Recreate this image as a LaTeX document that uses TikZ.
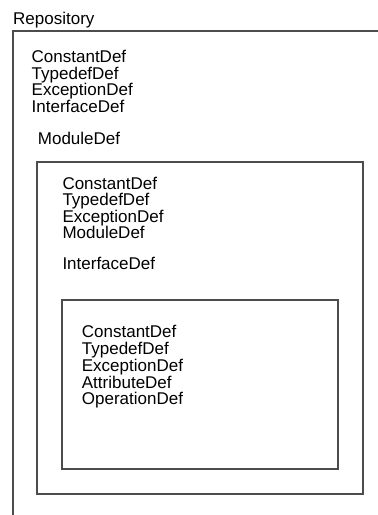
\documentclass[tikz,border=0pt]{standalone}
\usepackage{fontspec}
\setmainfont{Liberation Sans}
\begin{document}
\begin{tikzpicture}[x=1pt,y=-1pt,
  lbl/.style={anchor=base west, inner sep=0pt, font=\fontsize{17}{17}\selectfont},
  frame/.style={draw=black!70, line width=1.1pt},
  boxframe/.style={frame, rectangle, anchor=north west, inner sep=0pt, outer sep=0pt}]
\useasboundingbox (0,0) rectangle (378,515);
% Repository (open frame)
\node[lbl] (repo) at (13,24.3) {Repository};
\coordinate (rb) at (13,515);
\coordinate (rc) at (13,31);
\coordinate (rr) at (378,31);
\draw[frame] (rb) -- (rc) -- (rr);
\foreach \t [count=\i] in {ConstantDef,TypedefDef,ExceptionDef,InterfaceDef}
  \node[lbl] (ra\i) at (31.5,62.3+16.8*\i-16.8) {\t};
% ModuleDef
\node[lbl] (modlbl) at (37.7,144.3) {ModuleDef};
\node[boxframe, minimum width=326pt, minimum height=332pt] (module) at (37,162) {};
\foreach \t [count=\i] in {ConstantDef,TypedefDef,ExceptionDef,ModuleDef}
  \node[lbl] (ma\i) at (62.3,189+16.6*\i-16.6) {\t};
% InterfaceDef
\node[lbl] (intlbl) at (62.3,269) {InterfaceDef};
\node[boxframe, minimum width=276pt, minimum height=169pt] (interface) at (62,300) {};
\foreach \t [count=\i] in {ConstantDef,TypedefDef,ExceptionDef,AttributeDef,OperationDef}
  \node[lbl] (ia\i) at (81.7,337.3+16.9*\i-16.9) {\t};
\end{tikzpicture}
\end{document}
